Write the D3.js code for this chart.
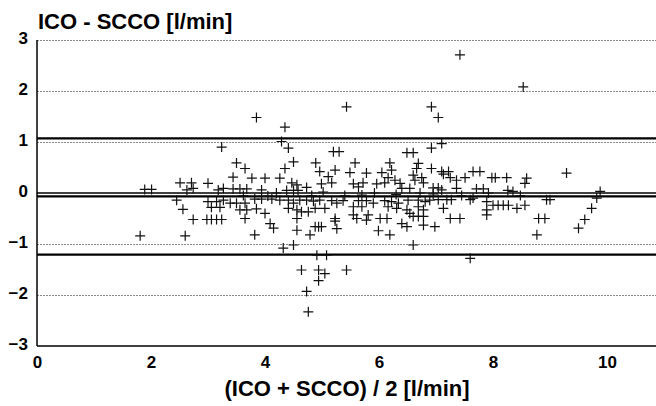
<!DOCTYPE html>
<html>
<head>
<meta charset="utf-8">
<script src="https://cdn.jsdelivr.net/npm/d3@7/dist/d3.min.js"></script>
<style>
  html, body { margin: 0; padding: 0; background: #fff; }
  svg { display: block; }
  text { font-family: "Liberation Sans", Arial, Helvetica, sans-serif; font-weight: bold; fill: #000; }
</style>
</head>
<body>
<svg id="chart" width="656" height="406"></svg>
<script>
// (ICO + SCCO)/2 [l/min]
const meanCO = [
  1.89,2.01,2.51,2.71,3.0,2.63,2.74,3.18,3.27,2.45,3.0,3.15,3.06,3.21,2.56,2.74,2.98,3.06,3.15,3.24,1.81,2.6,3.24,
  5.43,3.85,4.35,4.29,4.41,5.2,5.3,3.5,3.65,4.5,4.35,4.89,5.58,6.19,5.78,5.49,4.96,5.11,5.23,6.05,6.16,6.22,
  3.44,3.77,4.0,4.26,4.47,4.56,4.73,4.99,5.17,5.55,5.64,5.72,5.96,6.1,3.44,3.56,3.68,3.94,4.38,4.5,4.58,
  3.27,3.39,3.5,3.65,3.82,3.94,4.12,4.26,4.41,4.5,4.61,4.73,4.85,4.96,5.17,5.26,5.37,5.64,5.78,5.9,6.1,6.22,
  3.56,3.68,3.85,4.0,4.41,4.56,4.64,4.76,4.88,5.05,5.55,5.7,6.16,3.65,4.09,4.15,4.56,5.23,5.55,5.61,5.78,5.81,6.02,6.14,
  3.82,4.56,4.79,4.88,4.94,4.99,5.26,5.23,5.99,6.19,4.5,4.32,
  4.91,5.08,4.64,4.94,5.05,5.43,4.94,4.73,4.76,
  6.92,7.04,7.1,6.92,6.49,6.6,6.69,6.66,6.92,7.1,7.22,6.28,6.37,6.6,6.63,6.75,6.78,7.13,7.25,7.36,7.51,7.65,7.77,
  7.98,8.04,8.24,8.59,8.56,9.29,6.4,6.54,6.95,7.04,7.1,7.36,7.71,7.83,8.26,8.35,
  6.34,6.51,6.69,6.81,6.89,7.04,7.19,7.27,7.6,7.65,7.89,8.0,8.09,8.18,8.27,8.42,8.56,8.94,9.0,
  6.31,6.49,6.54,6.69,6.78,7.13,7.89,7.89,6.6,6.69,6.78,7.25,7.42,8.8,8.91,6.4,6.49,6.78,6.98,8.77,9.5,6.6,
  9.82,9.88,9.73,9.61,7.42,8.53,7.6,
  3.62,4.2,4.82,5.02,5.4,5.92,6.3,6.72,7.45,7.92,8.48,4.05,5.7,6.95
];
// ICO - SCCO [l/min]
const diffCO = [
  0.07,0.07,0.20,0.20,0.19,0.06,0.09,0.06,0.09,-0.14,-0.17,-0.17,-0.28,-0.28,-0.32,-0.52,-0.52,-0.52,-0.52,-0.52,-0.84,-0.84,0.90,
  1.69,1.48,1.29,1.01,0.88,0.81,0.81,0.59,0.48,0.61,0.48,0.59,0.59,0.59,0.39,0.40,0.42,0.32,0.45,0.40,0.30,0.45,
  0.31,0.29,0.29,0.29,0.20,0.16,0.11,0.18,0.20,0.18,0.12,0.20,0.18,0.20,0.08,0.08,0.08,0.06,0.05,0.05,0.05,
  -0.14,-0.20,-0.20,-0.20,-0.12,-0.12,-0.12,-0.14,-0.14,-0.20,-0.14,-0.14,-0.16,-0.14,-0.15,-0.20,-0.15,-0.15,-0.15,-0.20,-0.15,-0.17,
  -0.33,-0.33,-0.31,-0.40,-0.30,-0.33,-0.37,-0.37,-0.30,-0.30,-0.27,-0.27,-0.27,-0.50,-0.60,-0.69,-0.50,-0.50,-0.43,-0.50,-0.53,-0.43,-0.50,-0.50,
  -0.82,-0.73,-0.82,-0.66,-0.66,-0.66,-0.70,-0.55,-0.74,-0.82,-1.02,-1.08,
  -1.22,-1.22,-1.51,-1.51,-1.58,-1.51,-1.72,-1.93,-2.33,
  1.69,1.48,0.97,0.88,0.79,0.79,0.58,0.48,0.48,0.42,0.42,0.25,0.19,0.35,0.25,0.30,0.20,0.37,0.30,0.25,0.30,0.42,0.42,
  0.30,0.30,0.30,0.29,0.19,0.39,0.09,0.09,0.10,0.10,0.06,0.09,0.08,0.08,0.05,0.03,
  -0.20,-0.14,-0.14,-0.17,-0.14,-0.13,-0.13,-0.13,-0.13,-0.10,-0.17,-0.24,-0.24,-0.24,-0.24,-0.30,-0.24,-0.13,-0.13,
  -0.30,-0.33,-0.40,-0.27,-0.33,-0.30,-0.33,-0.43,-0.46,-0.46,-0.46,-0.50,-0.50,-0.50,-0.50,-0.60,-0.66,-0.63,-0.66,-0.82,-0.69,-1.02,
  -0.10,0.03,-0.30,-0.52,2.71,2.08,-1.28,
  -0.05,0.00,-0.05,0.02,-0.05,0.00,-0.03,0.00,-0.05,0.00,-0.05,-0.06,-0.04,-0.02
];
const xTicks = [0, 2, 4, 6, 8, 10];
const yTicks = [-3, -2, -1, 0, 1, 2, 3];
const gridLevels = [3, 2, 1, -1, -2];
const meanDiff = -0.065;
const limitsOfAgreement = [1.07, -1.21];
const yTitle = "ICO - SCCO [l/min]";
const xTitle = "(ICO + SCCO) / 2 [l/min]";

const svg = d3.select("#chart");
const x = d3.scaleLinear().domain([0, 11]).range([37, 664]);
const y = d3.scaleLinear().domain([-3, 3]).range([346, 40]);
const [x0, x1] = [x(0), 656];

// dotted grid
svg.append("g").selectAll("line").data(gridLevels).join("line")
  .attr("x1", x0).attr("x2", x1)
  .attr("y1", d => y(d) + 0.5).attr("y2", d => y(d) + 0.5)
  .attr("stroke", "#8a8a8a").attr("stroke-width", 1)
  .attr("stroke-dasharray", "2,1");

// zero line
svg.append("line").attr("x1", x0).attr("x2", x1)
  .attr("y1", y(0)).attr("y2", y(0))
  .attr("stroke", "#000").attr("stroke-width", 1.4);

// mean line and limits of agreement
svg.append("g").selectAll("line").data([meanDiff, ...limitsOfAgreement]).join("line")
  .attr("x1", x0).attr("x2", x1)
  .attr("y1", d => y(d)).attr("y2", d => y(d))
  .attr("stroke", "#000").attr("stroke-width", 2.2);

// axes lines
svg.append("line").attr("x1", x0).attr("x2", x0).attr("y1", y(3)).attr("y2", y(-3))
  .attr("stroke", "#000").attr("stroke-width", 1.5);
svg.append("line").attr("x1", x0).attr("x2", x1).attr("y1", y(-3)).attr("y2", y(-3))
  .attr("stroke", "#000").attr("stroke-width", 1.5);

// points as "+"
const pts = meanCO.map((m, i) => [m, diffCO[i]]);
const arm = 5;
svg.append("g").selectAll("path").data(pts).join("path")
  .attr("d", d => {
    const px = x(d[0]), py = y(d[1]);
    return `M${px - arm},${py}H${px + arm}M${px},${py - arm}V${py + arm}`;
  })
  .attr("stroke", "#111").attr("stroke-width", 1.2).attr("fill", "none");

// axes labels
const yAxis = svg.append("g").attr("transform", `translate(${x0},0)`)
  .call(d3.axisLeft(y).tickValues(yTicks).tickSize(0).tickPadding(9).tickFormat(d3.format("d")));
yAxis.select(".domain").remove();
yAxis.selectAll("text").attr("font-size", 17).attr("dy", "0.22em")
  .style("font-family", "'Liberation Sans', Arial, sans-serif").style("font-weight", "bold");

const xAxis = svg.append("g").attr("transform", `translate(0,${y(-3)})`)
  .call(d3.axisBottom(x).tickValues(xTicks).tickSize(0).tickPadding(10).tickFormat(d3.format("d")));
xAxis.select(".domain").remove();
xAxis.selectAll("text").attr("font-size", 17)
  .style("font-family", "'Liberation Sans', Arial, sans-serif").style("font-weight", "bold");

svg.append("text").attr("x", 38).attr("y", 29).attr("font-size", 22).text(yTitle);
svg.append("text").attr("x", 347).attr("y", 396).attr("text-anchor", "middle")
  .attr("font-size", 22).text(xTitle);
</script>
</body>
</html>
